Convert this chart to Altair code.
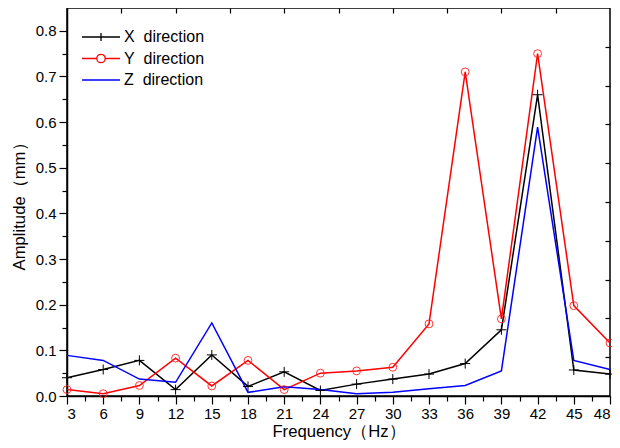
import altair as alt
import pandas as pd

# ---- data ----
freq = [3, 6, 9, 12, 15, 18, 21, 24, 27, 30, 33, 36, 39, 42, 45, 48]
x_dir = [0.040, 0.058, 0.078, 0.014, 0.090, 0.021, 0.053, 0.012, 0.026, 0.037, 0.048, 0.071, 0.145, 0.660, 0.057, 0.048]
y_dir = [0.014, 0.005, 0.023, 0.083, 0.022, 0.078, 0.014, 0.050, 0.055, 0.063, 0.158, 0.710, 0.169, 0.750, 0.198, 0.116]
z_dir = [0.089, 0.078, 0.037, 0.030, 0.160, 0.008, 0.020, 0.014, 0.005, 0.008, 0.016, 0.023, 0.055, 0.589, 0.078, 0.058]

series_names = ["X\u00a0\u00a0direction", "Y\u00a0\u00a0direction", "Z\u00a0\u00a0direction"]
series_colors = ["#000000", "#ff0000", "#0000ff"]

x_ticks = [3, 6, 9, 12, 15, 18, 21, 24, 27, 30, 33, 36, 39, 42, 45, 48]
x_minor = [4.5, 7.5, 10.5, 13.5, 16.5, 19.5, 22.5, 25.5, 28.5, 31.5, 34.5, 37.5, 40.5, 43.5, 46.5]
y_ticks = [0.0, 0.1, 0.2, 0.3, 0.4, 0.5, 0.6, 0.7, 0.8]
y_minor = [0.05, 0.15, 0.25, 0.35, 0.45, 0.55, 0.65, 0.75]
top_ticks = [7.5, 12, 16.5, 21, 25.5, 30, 34.5, 39, 43.5]
right_ticks = [0.085, 0.17, 0.255, 0.34, 0.425, 0.51, 0.595, 0.68, 0.765]

rows = []
for name, vals in zip(series_names, [x_dir, y_dir, z_dir]):
    for f, v in zip(freq, vals):
        rows.append({"series": name, "freq": f, "amp": v})
df = pd.DataFrame(rows)

FONT = "Liberation Sans"
xscale = alt.Scale(domain=[3, 48], nice=False, zero=False)
yscale = alt.Scale(domain=[0, 0.85], nice=False, zero=False)
cscale = alt.Scale(domain=series_names, range=series_colors)

legend_paths = [
    "M-1.9,0H1.9M0,-0.4V0.4",
    "M-1.9,0H-0.42M0.42,0H1.9M-0.42,0A0.42,0.42 0 1,0 0.42,0A0.42,0.42 0 1,0 -0.42,0",
    "M-1.9,0H1.9",
]

leg = dict(orient="none", legendX=23, legendY=18, title=None, labelFontSize=16,
           labelFont=FONT, labelColor="black", symbolSize=400, symbolStrokeWidth=1.3,
           labelOffset=12, rowPadding=2.5, padding=0)

base = alt.Chart(df)

lines = base.mark_line(strokeWidth=1.5).encode(
    x=alt.X("freq:Q", scale=xscale, axis=alt.Axis(
        orient="bottom", values=x_ticks, title="Frequency（Hz）", tickSize=8,
        labelFontSize=15, titleFontSize=16.7, labelPadding=2, titlePadding=2,
        grid=False)),
    y=alt.Y("amp:Q", scale=yscale, axis=alt.Axis(
        orient="left", values=y_ticks, format=".1f", title="Amplitude（mm）",
        tickSize=8, labelFontSize=15, titleFontSize=16.7, labelPadding=3,
        titlePadding=7, grid=False)),
    color=alt.Color("series:N", scale=cscale, legend=alt.Legend(**leg)),
)

xpts = base.transform_filter(alt.datum.series == series_names[0]).mark_point(
    shape="M-1,0H1M0,-1V1", size=100, color="black", filled=False,
    strokeWidth=1, opacity=1).encode(
    x=alt.X("freq:Q", scale=xscale, axis=None),
    y=alt.Y("amp:Q", scale=yscale, axis=None))

ypts = base.transform_filter(alt.datum.series == series_names[1]).mark_point(
    shape="circle", size=62, color="#ff2020", filled=False,
    strokeWidth=1, opacity=0.9).encode(
    x=alt.X("freq:Q", scale=xscale, axis=None),
    y=alt.Y("amp:Q", scale=yscale, axis=None))

minor = base.mark_point(opacity=0).encode(
    x=alt.X("freq:Q", scale=xscale, axis=alt.Axis(
        orient="bottom", values=x_minor, labels=False, tickSize=5, domain=False,
        title=None, grid=False)),
    y=alt.Y("amp:Q", scale=yscale, axis=alt.Axis(
        orient="left", values=y_minor, labels=False, tickSize=5, domain=False,
        title=None, grid=False)))

frame = base.mark_point(opacity=0).encode(
    x=alt.X("freq:Q", scale=xscale, axis=alt.Axis(
        orient="top", values=top_ticks, labels=False, tickSize=5, offset=-5,
        domain=False, title=None, grid=False)),
    y=alt.Y("amp:Q", scale=yscale, axis=alt.Axis(
        orient="right", values=right_ticks, labels=False, tickSize=5, offset=-5,
        domain=False, title=None, grid=False)))

legend_layer = base.transform_filter("false").mark_point(
    filled=False, opacity=1, strokeWidth=1.3).encode(
    x=alt.X("freq:Q", scale=xscale, axis=None),
    y=alt.Y("amp:Q", scale=yscale, axis=None),
    color=alt.Color("series:N", scale=cscale, legend=alt.Legend(**leg)),
    shape=alt.Shape("series:N", scale=alt.Scale(domain=series_names, range=legend_paths),
                    legend=alt.Legend(**leg)),
)

chart = alt.layer(lines, xpts, ypts, minor, frame, legend_layer).resolve_axis(
    x="independent", y="independent"
).properties(
    width=604, height=432, background="white",
    autosize=alt.AutoSizeParams(type="fit", contains="padding"),
    padding={"left": 3, "top": -1, "right": -5, "bottom": 0},
).configure_view(
    stroke="black", strokeWidth=1.5
).configure_axis(
    domainColor="black", tickColor="black", labelColor="black", titleColor="black",
    domainWidth=1.5, tickWidth=1.2, labelFont=FONT, titleFont=FONT,
    titleFontWeight="normal",
)

chart.save("out.html", embed_options={"renderer": "svg", "actions": False})
